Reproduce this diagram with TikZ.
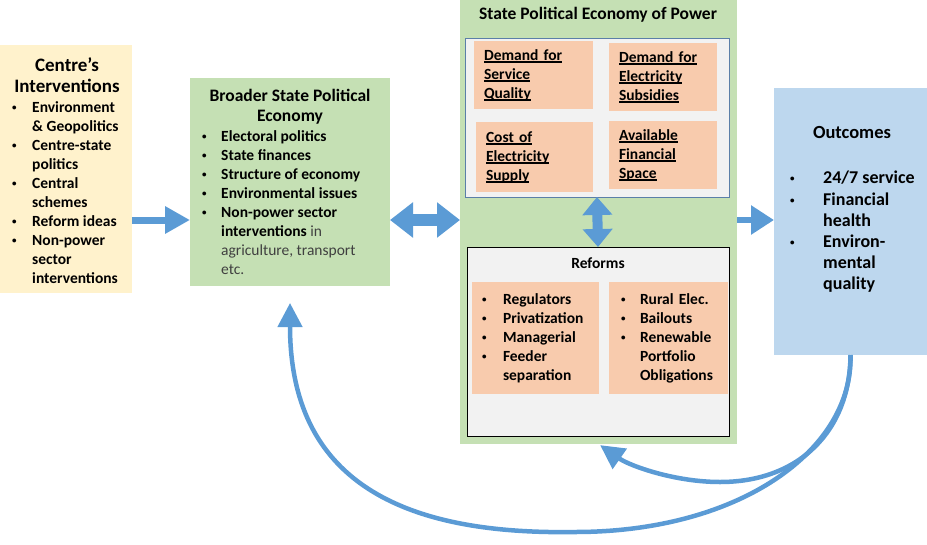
\documentclass[tikz,border=0pt]{standalone}
\usepackage{fontspec}
\setmainfont{Carlito}
\usetikzlibrary{arrows.meta,calc,positioning}
\definecolor{sand}{HTML}{FFF2CC}
\definecolor{leaf}{HTML}{C5E0B4}
\definecolor{peach}{HTML}{F8CBAD}
\definecolor{mist}{HTML}{F2F2F2}
\definecolor{sky}{HTML}{BDD7EE}
\definecolor{frame}{HTML}{5B7FA8}
\definecolor{arrowblue}{HTML}{5B9BD5}
\definecolor{softtext}{HTML}{404040}
\newcommand{\blt}[1][19pt]{\makebox[#1][l]{\raisebox{2pt}{\fontsize{9}{9}\selectfont\textbullet}}}
\newcommand{\hng}[1][19pt]{\hspace*{#1}}
\newcommand{\uln}[1]{\leavevmode\setbox0=\hbox{#1}\rlap{\rule[-2.4pt]{\wd0}{1.3pt}}\box0}
\tikzset{
  panel/.style={inner sep=0pt,outer sep=0pt,anchor=north west},
  cell/.style={fill=peach,inner xsep=10pt,inner ysep=0pt,outer sep=0pt,align=left,anchor=north west,
    font=\bfseries\fontsize{15.5}{19}\selectfont},
  ttl/.style={font=\bfseries\fontsize{17.5}{20}\selectfont,align=center,inner sep=0pt},
  lst/.style={font=\bfseries\fontsize{15.5}{19}\selectfont,align=left,inner sep=0pt,anchor=north west},
  bigarrow/.style={draw=arrowblue},
  feedback/.style={draw=arrowblue,line width=4.5pt,-{Triangle[length=24pt,width=24pt]}}}
\begin{document}
\begin{tikzpicture}[x=1pt,y=-1pt]
\useasboundingbox (0,0) rectangle (927,544);
\coordinate (row) at (0,220);
\node[panel,fill=sand,minimum width=132pt,minimum height=248pt] (centre) at (0,45) {};
\node[panel,fill=leaf,minimum width=200pt,minimum height=208pt] (broader) at (190,78) {};
\node[panel,fill=leaf,minimum width=277pt,minimum height=444pt] (power) at (460,0) {};
\node[panel,fill=mist,draw=frame,line width=.8pt,minimum width=264pt,minimum height=159pt] (drivers) at (465,38) {};
\node[panel,fill=mist,draw=black,line width=1pt,minimum width=262pt,minimum height=189pt] (reforms) at (467,247) {};
\node[panel,fill=sky,minimum width=153pt,minimum height=267pt] (outcomes) at (774,88) {};
\node[cell,text width=99pt,minimum height=68pt] (dq) at (474,41) {\uln{Demand for}\\\uln{Service}\\\uln{Quality}};
\node[cell,text width=88pt,minimum height=68pt] (ds) at (609,43) {\uln{Demand for}\\\uln{Electricity}\\\uln{Subsidies}};
\node[cell,text width=97pt,minimum height=70pt] (cs) at (476,122) {\uln{Cost of}\\\uln{Electricity}\\\uln{Supply}};
\node[cell,text width=88pt,minimum height=68pt] (fs) at (609,121) {\uln{Available}\\\uln{Financial}\\\uln{Space}};
\node[cell,text width=107pt,minimum height=112pt] (rl) at (472,282) {\blt[21pt]Regulators\\\blt[21pt]Privatization\\\blt[21pt]Managerial\\\blt[21pt]Feeder\\\hng[21pt]separation};
\node[cell,inner xsep=12pt,text width=95pt,minimum height=112pt] (rr) at (609,282) {\blt Rural Elec.\\\blt Bailouts\\\blt Renewable\\\hng Portfolio\\\hng Obligations};
\node[ttl,font=\bfseries\fontsize{19}{20.5}\selectfont] (centreT) at (67,75) {Centre’s\\Interventions};
\node[ttl] (broaderT) at (290,107) {Broader State Political\\Economy};
\node[ttl] (powerT) at (598,15) {State Political Economy of Power};
\node[ttl,font=\bfseries\fontsize{15.5}{19}\selectfont] (reformsT) at (598,263) {Reforms};
\node[ttl,font=\bfseries\fontsize{18.5}{22}\selectfont] (outcomesT) at (852,132) {Outcomes};
\node[lst] (centreL) at (12,101) {\blt[20pt]Environment\\\hng[20pt]\&~Geopolitics\\\blt[20pt]Centre-state\\\hng[20pt]politics\\\blt[20pt]Central\\\hng[20pt]schemes\\\blt[20pt]Reform ideas\\\blt[20pt]Non-power\\\hng[20pt]sector\\\hng[20pt]interventions};
\node[lst] (broaderL) at (202,130) {\blt Electoral politics\\\blt State finances\\\blt Structure of economy\\\blt Environmental issues\\\blt Non-power sector\\\hng interventions {\mdseries\color{softtext}in}\\\hng{\mdseries\color{softtext}agriculture, transport}\\\hng{\mdseries\color{softtext}etc.}};
\node[lst,font=\bfseries\fontsize{18}{21.2}\selectfont] (outcomesL) at (790,171) {\blt[33pt]24/7 service\\\blt[33pt]Financial\\\hng[33pt]health\\\blt[33pt]Environ-\\\hng[33pt]mental\\\hng[33pt]quality};
\draw[bigarrow,line width=7pt,-{Triangle[length=25pt,width=26pt]}] (centre.east|-row) -- (broader.west|-row);
\draw[bigarrow,line width=12pt,{Triangle[length=23pt,width=34pt]}-{Triangle[length=23pt,width=34pt]}] (broader.east|-row) -- (power.west|-row);
\draw[bigarrow,line width=10pt,{Triangle[length=18pt,width=29pt]}-{Triangle[length=18pt,width=29pt]}] (drivers.south) -- (reforms.north);
\draw[bigarrow,line width=6pt,-{Triangle[length=23pt,width=28pt]}] (power.east|-row) -- (outcomes.west|-row);
\draw[feedback,shorten >=17pt] (outcomes.south) .. controls (853,450) and (740,532) .. (575,532) .. controls (400,535) and (290,480) .. (broader.south);
\draw[feedback,shorten >=2pt] (outcomes.south) .. controls (850,430) and (800,482) .. (720,482) .. controls (675,482) and (630,466) .. (power.south);
\end{tikzpicture}
\end{document}
